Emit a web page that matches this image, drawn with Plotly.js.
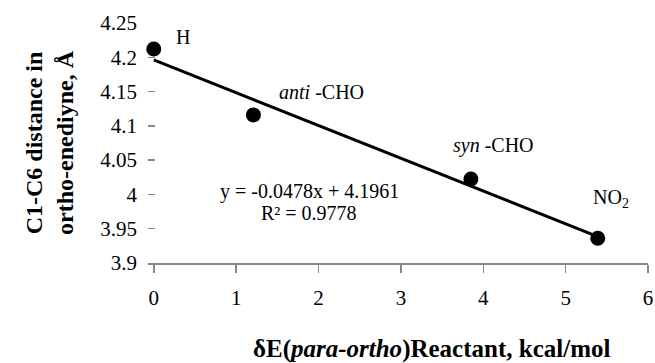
<!DOCTYPE html>
<html>
<head>
<meta charset="utf-8">
<script src="https://cdn.plot.ly/plotly-3.0.1.min.js"></script>
<style>html,body{margin:0;padding:0;background:#fff;}#chart{width:655px;height:363px;}</style>
</head>
<body>
<div id="chart"></div>
<script>
// ---- data ----
const xValues = [0, 1.21, 3.85, 5.39];
const yValues = [4.212, 4.116, 4.0225, 3.936];
const pointLabels = ['H', '<i>anti</i> -CHO', '<i>syn</i> -CHO', 'NO<sub>2</sub>'];
const xTickVals = [0, 1, 2, 3, 4, 5, 6];
const xTickText = ['0', '1', '2', '3', '4', '5', '6'];
const yTickVals = [3.9, 3.95, 4.0, 4.05, 4.1, 4.15, 4.2, 4.25];
const yTickText = ['3.9', '3.95', '4', '4.05', '4.1', '4.15', '4.2', '4.25'];
const fitSlope = -0.0478;
const fitIntercept = 4.1961;
const fitR2 = 0.9778;

// ---- build ----
const serif = 'Liberation Serif, Times New Roman, serif';
const fitX = [Math.min(...xValues), Math.max(...xValues)];
const fitY = fitX.map(x => fitSlope * x + fitIntercept);

const traces = [
  {x: fitX, y: fitY, mode: 'lines', line: {color: '#000', width: 3}, hoverinfo: 'skip', cliponaxis: false},
  {x: xValues, y: yValues, mode: 'markers', marker: {color: '#000', size: 15}, cliponaxis: false}
];

const labelShift = [[29, 12], [68, 23], [23, 34], [13, 40]];
const annotations = pointLabels.map((t, i) => ({
  x: xValues[i], y: yValues[i], xref: 'x', yref: 'y', text: t, showarrow: false,
  xanchor: 'center', yanchor: 'middle',
  xshift: labelShift[i][0], yshift: labelShift[i][1],
  font: {family: serif, size: 20, color: '#000'}
}));

annotations.push({
  xref: 'paper', yref: 'paper', x: 0.322, y: 0.30, xanchor: 'center', yanchor: 'middle', showarrow: false,
  text: 'y = ' + fitSlope.toFixed(4) + 'x + ' + fitIntercept.toFixed(4),
  font: {family: serif, size: 20, color: '#000'}
});
annotations.push({
  xref: 'paper', yref: 'paper', x: 0.322, y: 0.207, xanchor: 'center', yanchor: 'middle', showarrow: false,
  text: 'R² = ' + fitR2.toFixed(4),
  font: {family: serif, size: 20, color: '#000'}
});
annotations.push({
  xref: 'paper', yref: 'paper', x: -0.198, y: 0.5, xanchor: 'center', yanchor: 'middle', showarrow: false, textangle: -90,
  text: '<b>C1-C6 distance in<br>ortho-enediyne, Å</b>',
  font: {family: serif, size: 24, color: '#000'}
});
annotations.push({
  xref: 'paper', yref: 'paper', x: 0.566, y: -0.36, xanchor: 'center', yanchor: 'middle', showarrow: false,
  text: '<b>δE(<i>para-ortho</i>)Reactant, kcal/mol</b>',
  font: {family: serif, size: 25, color: '#000'}
});

const layout = {
  width: 655, height: 363,
  margin: {l: 148, r: 7, t: 23, b: 100},
  paper_bgcolor: '#fff', plot_bgcolor: '#fff',
  showlegend: false,
  font: {family: serif, size: 21, color: '#000'},
  xaxis: {
    range: [-0.07, 6], tickvals: xTickVals, ticktext: xTickText,
    showgrid: false, zeroline: false, showline: true, linecolor: '#888', linewidth: 1.5,
    ticks: 'outside', ticklen: 8, tickcolor: '#888', tickwidth: 1.5,
    ticklabelstandoff: 7, tickfont: {family: serif, size: 21, color: '#000'}
  },
  yaxis: {
    range: [3.9, 4.25], tickvals: yTickVals, ticktext: yTickText,
    showgrid: false, zeroline: false, showline: false,
    ticks: 'inside', ticklen: 7, tickcolor: '#888', tickwidth: 1.5,
    ticklabelstandoff: 10, tickfont: {family: serif, size: 21, color: '#000'}
  },
  annotations: annotations
};

Plotly.newPlot('chart', traces, layout, {displayModeBar: false, staticPlot: true});
</script>
</body>
</html>
